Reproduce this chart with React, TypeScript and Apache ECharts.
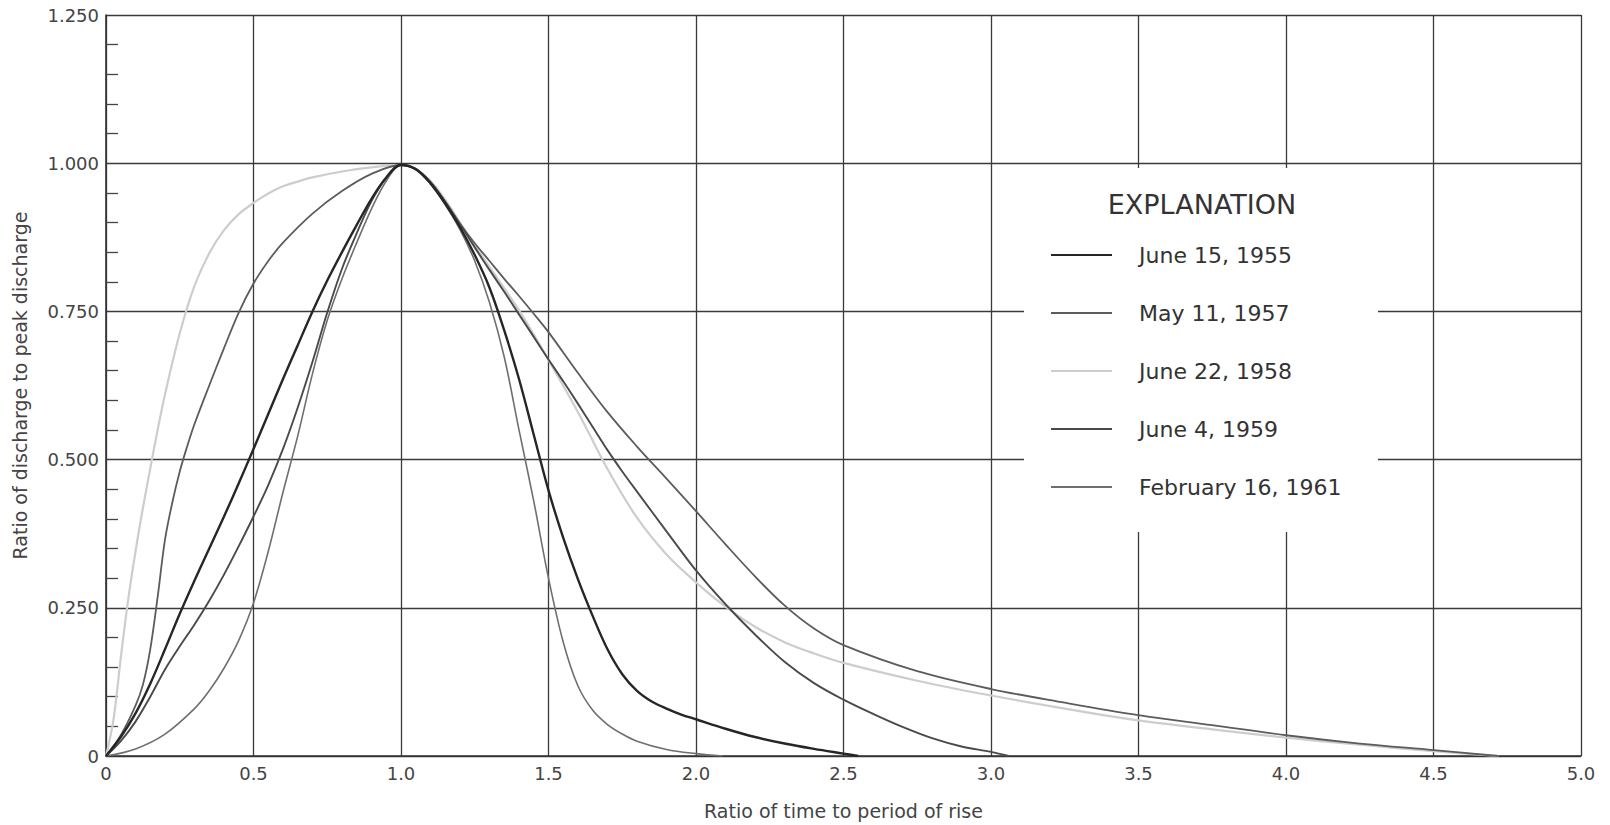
import React, { useEffect, useRef } from "react";
import * as echarts from "echarts";

// ---- Data (ratio of time to period of rise, ratio of discharge to peak discharge) ----
const seriesNames = [
  "June 15, 1955",
  "May 11, 1957",
  "June 22, 1958",
  "June 4, 1959",
  "February 16, 1961",
];

const june1955: number[][] = [
  [0, 0], [0.05, 0.032], [0.1, 0.072], [0.15, 0.122], [0.2, 0.18], [0.25, 0.24],
  [0.3, 0.296], [0.35, 0.35], [0.4, 0.404], [0.45, 0.46], [0.5, 0.518], [0.55, 0.577],
  [0.6, 0.636], [0.65, 0.693], [0.7, 0.75], [0.75, 0.802], [0.8, 0.85], [0.85, 0.896],
  [0.9, 0.94], [0.95, 0.976], [1.0, 0.997], [1.05, 0.99], [1.1, 0.966], [1.15, 0.932],
  [1.2, 0.892], [1.25, 0.845], [1.3, 0.79], [1.35, 0.718], [1.4, 0.636], [1.45, 0.542],
  [1.5, 0.448], [1.55, 0.368], [1.6, 0.298], [1.65, 0.236], [1.7, 0.18], [1.75, 0.138],
  [1.8, 0.11], [1.85, 0.092], [1.9, 0.08], [1.95, 0.07], [2.0, 0.062], [2.1, 0.046],
  [2.2, 0.032], [2.3, 0.021], [2.4, 0.012], [2.5, 0.004], [2.55, 0],
];

const may1957: number[][] = [
  [0, 0], [0.05, 0.035], [0.1, 0.085], [0.125, 0.12], [0.15, 0.18], [0.175, 0.268],
  [0.2, 0.365], [0.225, 0.428], [0.25, 0.48], [0.275, 0.522], [0.3, 0.56], [0.35, 0.625],
  [0.4, 0.688], [0.45, 0.748], [0.5, 0.797], [0.55, 0.835], [0.6, 0.866], [0.7, 0.915],
  [0.8, 0.953], [0.9, 0.982], [1.0, 0.997], [1.05, 0.99], [1.1, 0.968], [1.15, 0.935],
  [1.2, 0.898], [1.25, 0.865], [1.3, 0.835], [1.35, 0.805], [1.4, 0.776], [1.45, 0.746],
  [1.5, 0.715], [1.6, 0.646], [1.7, 0.58], [1.8, 0.522], [1.9, 0.468], [2.0, 0.413],
  [2.1, 0.357], [2.2, 0.303], [2.3, 0.254], [2.4, 0.215], [2.5, 0.187], [2.75, 0.143],
  [3.0, 0.113], [3.25, 0.09], [3.5, 0.069], [3.75, 0.052], [4.0, 0.035], [4.25, 0.021],
  [4.5, 0.01], [4.72, 0],
];

const june1958: number[][] = [
  [0, 0], [0.025, 0.06], [0.05, 0.165], [0.075, 0.263], [0.1, 0.345], [0.125, 0.418],
  [0.15, 0.485], [0.175, 0.55], [0.2, 0.61], [0.25, 0.713], [0.3, 0.793], [0.35, 0.848],
  [0.4, 0.887], [0.45, 0.914], [0.5, 0.933], [0.55, 0.949], [0.6, 0.961], [0.65, 0.969],
  [0.7, 0.976], [0.8, 0.986], [0.9, 0.993], [1.0, 0.997], [1.05, 0.99], [1.1, 0.97],
  [1.15, 0.938], [1.2, 0.9], [1.25, 0.862], [1.3, 0.825], [1.35, 0.789], [1.4, 0.752],
  [1.45, 0.711], [1.5, 0.668], [1.6, 0.58], [1.7, 0.484], [1.8, 0.402], [1.9, 0.34],
  [2.0, 0.293], [2.1, 0.252], [2.2, 0.218], [2.3, 0.192], [2.4, 0.173], [2.5, 0.157],
  [2.75, 0.127], [3.0, 0.102], [3.25, 0.08], [3.5, 0.06], [3.75, 0.045], [4.0, 0.031],
  [4.25, 0.019], [4.5, 0.008], [4.72, 0],
];

const june1959: number[][] = [
  [0, 0], [0.05, 0.025], [0.1, 0.058], [0.15, 0.1], [0.2, 0.146], [0.25, 0.185],
  [0.3, 0.222], [0.35, 0.262], [0.4, 0.306], [0.45, 0.354], [0.5, 0.404], [0.55, 0.457],
  [0.6, 0.518], [0.65, 0.588], [0.7, 0.665], [0.75, 0.748], [0.8, 0.822], [0.85, 0.882],
  [0.9, 0.936], [0.95, 0.975], [1.0, 0.997], [1.05, 0.99], [1.1, 0.968], [1.15, 0.935],
  [1.2, 0.897], [1.25, 0.858], [1.3, 0.82], [1.35, 0.783], [1.4, 0.745], [1.45, 0.707],
  [1.5, 0.669], [1.55, 0.632], [1.6, 0.594], [1.65, 0.555], [1.7, 0.516], [1.75, 0.48],
  [1.8, 0.446], [1.9, 0.379], [2.0, 0.313], [2.1, 0.256], [2.2, 0.205], [2.3, 0.159],
  [2.4, 0.123], [2.5, 0.095], [2.6, 0.071], [2.7, 0.049], [2.8, 0.03], [2.9, 0.016],
  [3.0, 0.007], [3.06, 0],
];

const feb1961: number[][] = [
  [0, 0], [0.1, 0.012], [0.2, 0.037], [0.3, 0.08], [0.35, 0.11], [0.4, 0.148],
  [0.45, 0.195], [0.5, 0.258], [0.55, 0.345], [0.6, 0.445], [0.65, 0.54], [0.7, 0.645],
  [0.75, 0.735], [0.8, 0.805], [0.85, 0.866], [0.9, 0.923], [0.95, 0.97], [1.0, 0.997],
  [1.05, 0.99], [1.1, 0.965], [1.15, 0.93], [1.2, 0.888], [1.25, 0.835], [1.3, 0.765],
  [1.35, 0.673], [1.4, 0.55], [1.45, 0.43], [1.5, 0.3], [1.55, 0.192], [1.6, 0.118],
  [1.65, 0.077], [1.7, 0.053], [1.75, 0.037], [1.8, 0.025], [1.9, 0.011], [2.0, 0.004],
  [2.09, 0],
];

const xTickLabels = ["0", "0.5", "1.0", "1.5", "2.0", "2.5", "3.0", "3.5", "4.0", "4.5", "5.0"];
const yTickLabels = ["0", "0.250", "0.500", "0.750", "1.000", "1.250"];

const xTitle = "Ratio of time to period of rise";
const yTitle = "Ratio of discharge to peak discharge";
const legendTitle = "EXPLANATION";

const FONT = "DejaVu Sans";

export default function App() {
  const ref = useRef<HTMLDivElement>(null);

  useEffect(() => {
    if (!ref.current) return;
    const chart = echarts.init(ref.current, null, { renderer: "svg" });

    const dataSets = [june1955, may1957, june1958, june1959, feb1961];
    const colors = ["#262626", "#5c5c5c", "#cdcdcd", "#4a4a4a", "#6f6f6f"];
    const widths = [2.4, 1.8, 2.2, 1.9, 1.6];
    const zs = [6, 4, 3, 5, 4];

    const series = seriesNames.map((name, i) => ({
      name,
      type: "line",
      data: dataSets[i],
      showSymbol: false,
      symbol: "none",
      smooth: 0.35,
      color: colors[i],
      lineStyle: { color: colors[i], width: widths[i] },
      z: zs[i],
      silent: true,
    }));

    const option: any = {
      animation: false,
      backgroundColor: "#ffffff",
      textStyle: { fontFamily: FONT },
      grid: { left: 106, right: 29, top: 15, bottom: 68, containLabel: false },
      xAxis: {
        type: "value",
        min: 0,
        max: 5,
        interval: 0.5,
        name: xTitle,
        nameLocation: "middle",
        nameGap: 45,
        nameTextStyle: { fontSize: 19, color: "#444", fontFamily: FONT },
        axisLine: { show: true, lineStyle: { color: "#333", width: 1.6 } },
        axisTick: { show: false },
        axisLabel: {
          margin: 8,
          fontSize: 18,
          color: "#444",
          fontFamily: FONT,
          formatter: (_v: number, idx: number) => xTickLabels[idx] ?? "",
        },
        splitLine: { show: true, lineStyle: { color: "#3a3a3a", width: 1.3 } },
      },
      yAxis: {
        type: "value",
        min: 0,
        max: 1.25,
        interval: 0.25,
        name: yTitle,
        nameLocation: "middle",
        nameRotate: 90,
        nameGap: 77,
        nameTextStyle: { fontSize: 19, color: "#444", fontFamily: FONT },
        axisLine: { show: true, lineStyle: { color: "#333", width: 1.6 } },
        axisTick: { show: false, inside: true },
        minorTick: {
          show: true,
          splitNumber: 5,
          length: 12,
          lineStyle: { color: "#444", width: 1.3 },
        },
        axisLabel: {
          margin: 7,
          fontSize: 18,
          color: "#444",
          fontFamily: FONT,
          formatter: (_v: number, idx: number) => yTickLabels[idx] ?? "",
        },
        splitLine: { show: true, lineStyle: { color: "#3a3a3a", width: 1.3 } },
      },
      legend: {
        show: true,
        orient: "vertical",
        left: 1046,
        top: 238,
        data: seriesNames,
        icon: "rect",
        itemWidth: 61,
        itemHeight: 2,
        itemGap: 34,
        selectedMode: false,
        textStyle: {
          fontSize: 22,
          lineHeight: 24,
          color: "#333",
          fontFamily: FONT,
          padding: [0, 0, 0, 22],
        },
        z: 10,
      },
      graphic: [
        {
          type: "rect",
          z: 1,
          shape: { x: 1024, y: 168, width: 354, height: 364 },
          style: { fill: "#ffffff" },
          silent: true,
        },
        {
          type: "text",
          z: 10,
          x: 1202,
          y: 204,
          style: {
            text: legendTitle,
            fill: "#333",
            font: `27px "${FONT}"`,
            align: "center",
            verticalAlign: "middle",
          },
          silent: true,
        },
      ],
      series,
    };

    chart.setOption(option);
    return () => chart.dispose();
  }, []);

  return (
    <div
      ref={ref}
      style={{ position: "fixed", left: 0, top: 0, width: 1610, height: 825, background: "#fff" }}
    />
  );
}
